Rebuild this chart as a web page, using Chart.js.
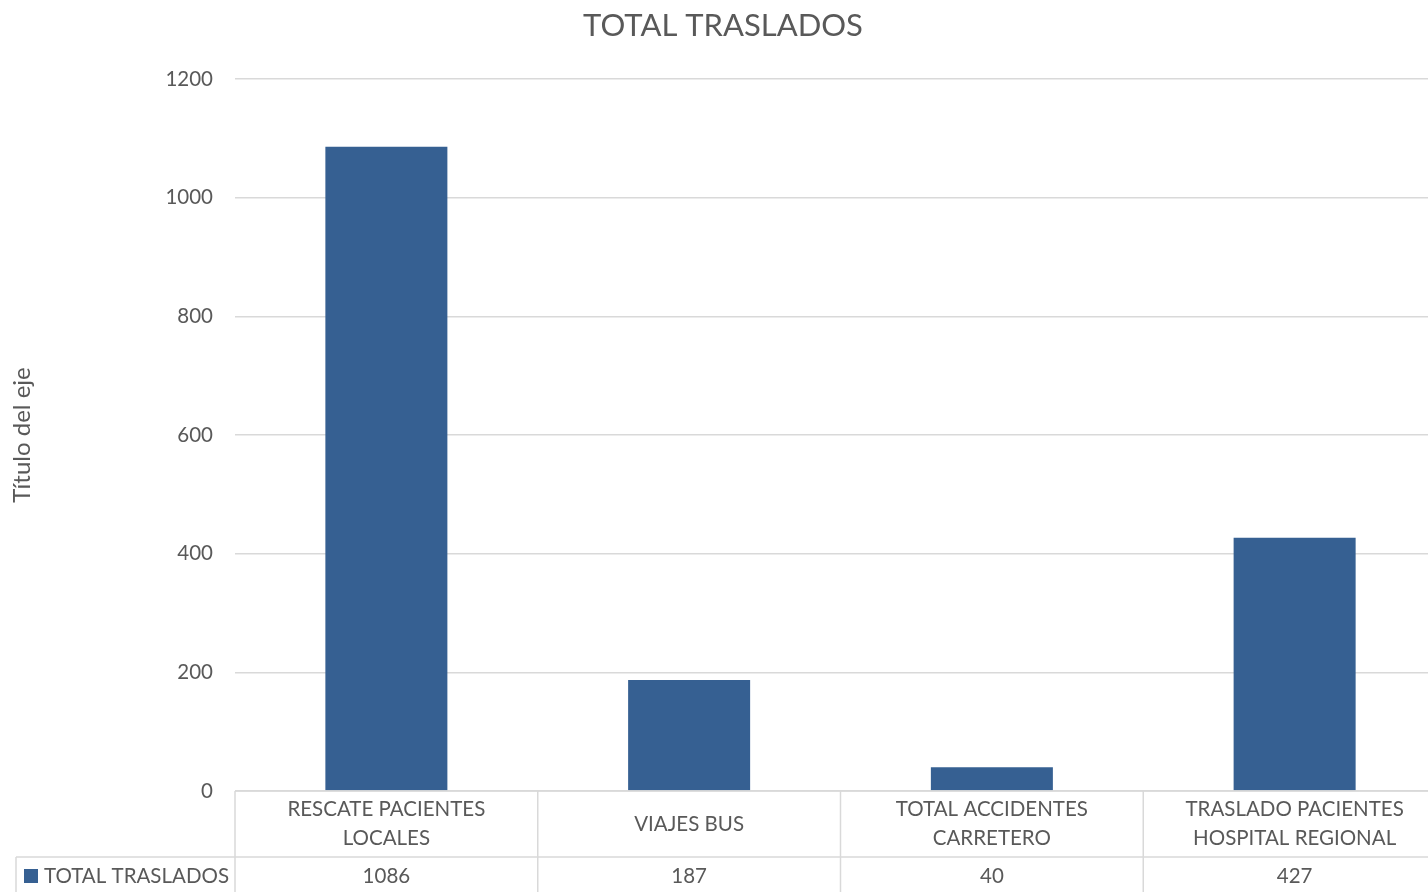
<!DOCTYPE html>
<html>
<head>
<meta charset="utf-8">
<script src="https://cdn.jsdelivr.net/npm/chart.js@4/dist/chart.umd.min.js"></script>
<style>
  html, body { margin: 0; padding: 0; background: #fff; overflow: hidden; }
  #wrap { width: 1446px; height: 892px; position: relative; }
</style>
</head>
<body>
<div id="wrap"><canvas id="c"></canvas></div>
<script>
const chartTitle = 'TOTAL TRASLADOS';
const seriesName = 'TOTAL TRASLADOS';
const axisTitle = 'Título del eje';
const categories = [
  ['RESCATE PACIENTES', 'LOCALES'],
  ['VIAJES BUS'],
  ['TOTAL ACCIDENTES', 'CARRETERO'],
  ['TRASLADO PACIENTES', 'HOSPITAL REGIONAL']
];
const values = [1086, 187, 40, 427];
const yMin = 0, yMax = 1200, yStep = 200;

const TEXT = '#595959';
const GRID = '#d9d9d9';
const BAR = '#366092';
const FONT = 'Lato, "Open Sans", sans-serif';

const tablePlugin = {
  id: 'dataTable',
  afterDraw(chart) {
    const ctx = chart.ctx;
    const ca = chart.chartArea;
    const xs = chart.scales.x;
    const n = categories.length;
    const colW = (ca.right - ca.left) / n;
    const top = ca.bottom;
    const rowMid = top + 66;
    const bottom = chart.height + 5;
    ctx.save();
    ctx.strokeStyle = GRID;
    ctx.lineWidth = 1.5;
    ctx.beginPath();
    ctx.moveTo(ca.left, top); ctx.lineTo(ca.right, top);
    ctx.moveTo(16, rowMid); ctx.lineTo(ca.right, rowMid);
    for (let i = 0; i <= n; i++) {
      const bx = ca.left + i * colW;
      ctx.moveTo(bx, top); ctx.lineTo(bx, bottom);
    }
    ctx.moveTo(16, rowMid); ctx.lineTo(16, bottom);
    ctx.stroke();

    ctx.fillStyle = TEXT;
    ctx.font = '20.5px ' + FONT;
    ctx.textAlign = 'center';
    ctx.textBaseline = 'middle';
    categories.forEach((lines, i) => {
      const cx = xs.getPixelForValue(i);
      const lh = 29;
      const cy = (top + rowMid) / 2;
      lines.forEach((ln, k) => {
        ctx.fillText(ln, cx, cy + (k - (lines.length - 1) / 2) * lh);
      });
      ctx.fillText(String(values[i]), cx, rowMid + 19);
    });
    // legend key
    ctx.fillStyle = BAR;
    ctx.fillRect(24, rowMid + 12, 14, 14);
    ctx.fillStyle = TEXT;
    ctx.textAlign = 'left';
    ctx.fillText(seriesName, 44, rowMid + 19);
    ctx.restore();
  }
};

new Chart(document.getElementById('c'), {
  type: 'bar',
  data: {
    labels: categories,
    datasets: [{
      label: seriesName,
      data: values,
      backgroundColor: BAR,
      borderWidth: 0,
      categoryPercentage: 1,
      barPercentage: 0.403
    }]
  },
  options: {
    responsive: true,
    maintainAspectRatio: false,
    animation: false,
    layout: { padding: { top: 79, bottom: 101, left: 0, right: 0 } },
    plugins: {
      legend: { display: false },
      tooltip: { enabled: false },
      title: { display: false }
    },
    scales: {
      x: { display: false },
      y: {
        min: yMin, max: yMax,
        ticks: { stepSize: yStep, color: TEXT, font: { family: FONT, size: 20.5 }, padding: 22,
                 callback: v => String(v) },
        grid: { color: GRID, lineWidth: 1.5, drawTicks: false },
        border: { display: false },
        title: { display: true, text: axisTitle, color: TEXT, font: { family: FONT, size: 24 }, padding: { top: 8, bottom: 0 } },
        afterFit(scale) { scale.width = 235; }
      }
    }
  },
  plugins: [tablePlugin, {
    id: 'topTitle',
    afterDraw(chart) {
      const ctx = chart.ctx;
      ctx.save();
      ctx.fillStyle = TEXT;
      ctx.font = '31px ' + FONT;
      ctx.textAlign = 'center';
      ctx.textBaseline = 'middle';
      ctx.fillText(chartTitle, chart.width / 2, 26);
      ctx.restore();
    }
  }]
});
</script>
</body>
</html>
